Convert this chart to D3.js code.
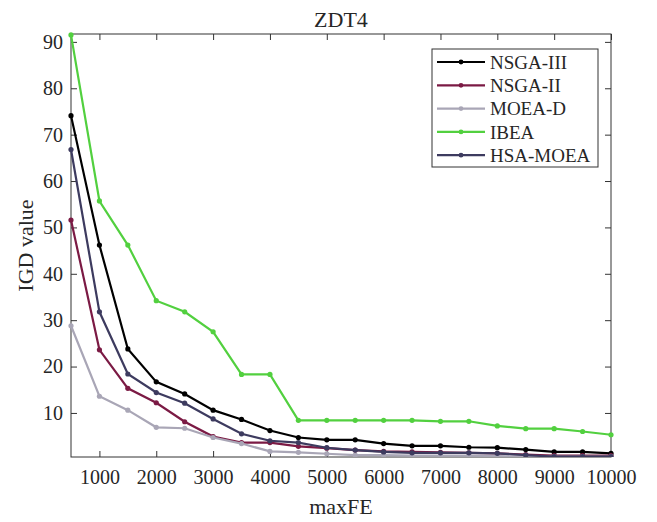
<!DOCTYPE html>
<html>
<head>
<meta charset="utf-8">
<script src="https://cdn.jsdelivr.net/npm/d3@7"></script>
<style>
  body { margin: 0; background: #fff; }
  svg text { font-family: "Liberation Serif", "Times New Roman", serif; fill: #262626; }
</style>
</head>
<body>
<div id="chart"></div>
<script>
// evaluations (maxFE)
const maxFE = [500, 1000, 1500, 2000, 2500, 3000, 3500, 4000, 4500, 5000,
               5500, 6000, 6500, 7000, 7500, 8000, 8500, 9000, 9500, 10000];

const nsga3 = [74.1, 46.2, 23.8, 16.7, 14.1, 10.6, 8.6, 6.2, 4.7, 4.2, 4.2, 3.4, 2.9, 2.9, 2.6, 2.5, 2.1, 1.6, 1.6, 1.3];
const nsga2 = [51.6, 23.6, 15.3, 12.2, 8.1, 4.9, 3.6, 3.6, 2.8, 2.4, 2.0, 1.7, 1.6, 1.5, 1.4, 1.3, 1.0, 0.8, 0.8, 0.8];
const moead = [28.8, 13.6, 10.6, 6.9, 6.7, 4.7, 3.4, 1.7, 1.5, 1.2, 0.9, 0.9, 0.8, 0.8, 0.8, 0.7, 0.6, 0.6, 0.6, 0.6];
const ibea  = [91.5, 55.7, 46.2, 34.2, 31.8, 27.5, 18.3, 18.3, 8.4, 8.4, 8.4, 8.4, 8.4, 8.2, 8.2, 7.2, 6.6, 6.6, 6.0, 5.3];
const hsa   = [66.8, 31.8, 18.4, 14.4, 12.1, 8.7, 5.5, 4.0, 3.6, 2.5, 2.0, 1.6, 1.4, 1.4, 1.4, 1.3, 0.9, 0.6, 0.6, 0.6];

const seriesNames = ["NSGA-III", "NSGA-II", "MOEA-D", "IBEA", "HSA-MOEA"];
const seriesColors = ["#000000", "#7b1a44", "#a9a6b6", "#52d03f", "#3d3b5f"];
const seriesValues = [nsga3, nsga2, moead, ibea, hsa];

const xTicks = [1000, 2000, 3000, 4000, 5000, 6000, 7000, 8000, 9000, 10000];
const yTicks = [10, 20, 30, 40, 50, 60, 70, 80, 90];

const width = 657, height = 522;
const margin = { top: 34, right: 46, bottom: 65, left: 71 };
const innerW = width - margin.left - margin.right;
const innerH = height - margin.top - margin.bottom;

const svg = d3.select("#chart").append("svg")
  .attr("width", width)
  .attr("height", height);

const g = svg.append("g")
  .attr("transform", `translate(${margin.left},${margin.top})`);

const x = d3.scaleLinear().domain([500, 10000]).range([0, innerW]);
const y = d3.scaleLinear().domain([0.5, 91.7]).range([innerH, 0]);

const axisColor = "#333";
const tickLen = 6;

// axes, ticks point inward like MATLAB
function styleAxis(sel) {
  sel.select(".domain").remove();
  sel.selectAll(".tick line").attr("stroke", axisColor);
  sel.selectAll(".tick text").attr("font-size", 20).attr("fill", "#262626");
}

g.append("g")
  .attr("transform", `translate(0,${innerH})`)
  .call(d3.axisBottom(x).tickValues(xTicks).tickSize(-tickLen).tickPadding(13).tickFormat(d3.format("d")))
  .call(styleAxis);

g.append("g")
  .call(d3.axisTop(x).tickValues(xTicks).tickSize(-tickLen).tickFormat(""))
  .call(styleAxis);

g.append("g")
  .call(d3.axisLeft(y).tickValues(yTicks).tickSize(-tickLen).tickPadding(8))
  .call(styleAxis);

g.append("g")
  .attr("transform", `translate(${innerW},0)`)
  .call(d3.axisRight(y).tickValues(yTicks).tickSize(-tickLen).tickFormat(""))
  .call(styleAxis);

g.append("rect")
  .attr("width", innerW)
  .attr("height", innerH)
  .attr("fill", "none")
  .attr("stroke", axisColor)
  .attr("stroke-width", 1);

// lines
g.append("clipPath").attr("id", "clip")
  .append("rect").attr("x", -4).attr("y", -4).attr("width", innerW + 8).attr("height", innerH + 4);

const line = d3.line()
  .x((d, i) => x(maxFE[i]))
  .y(d => y(d));

const plot = g.append("g").attr("clip-path", "url(#clip)");

seriesValues.forEach((vals, k) => {
  plot.append("path")
    .datum(vals)
    .attr("fill", "none")
    .attr("stroke", seriesColors[k])
    .attr("stroke-width", 2.2)
    .attr("d", line);

  plot.selectAll(null)
    .data(vals)
    .join("circle")
    .attr("cx", (d, i) => x(maxFE[i]))
    .attr("cy", d => y(d))
    .attr("r", 2.6)
    .attr("fill", seriesColors[k]);
});

// title and labels
svg.append("text")
  .attr("x", margin.left + innerW / 2)
  .attr("y", 27)
  .attr("text-anchor", "middle")
  .attr("font-size", 22)
  .text("ZDT4");

svg.append("text")
  .attr("x", margin.left + innerW / 2)
  .attr("y", 514)
  .attr("text-anchor", "middle")
  .attr("font-size", 22)
  .text("maxFE");

svg.append("text")
  .attr("transform", `translate(33,${margin.top + innerH / 2}) rotate(-90)`)
  .attr("text-anchor", "middle")
  .attr("font-size", 22)
  .text("IGD value");

// legend
const legend = svg.append("g").attr("transform", "translate(432,49)");
legend.append("rect")
  .attr("width", 166)
  .attr("height", 118)
  .attr("fill", "#fff")
  .attr("stroke", axisColor);

seriesNames.forEach((name, k) => {
  const row = legend.append("g").attr("transform", `translate(0,${13 + k * 23.3})`);
  row.append("line")
    .attr("x1", 5).attr("x2", 53)
    .attr("stroke", seriesColors[k])
    .attr("stroke-width", 2.2);
  row.append("circle")
    .attr("cx", 29).attr("r", 2.4)
    .attr("fill", seriesColors[k]);
  row.append("text")
    .attr("x", 58)
    .attr("dy", "0.35em")
    .attr("font-size", 19)
    .text(name);
});
</script>
</body>
</html>
